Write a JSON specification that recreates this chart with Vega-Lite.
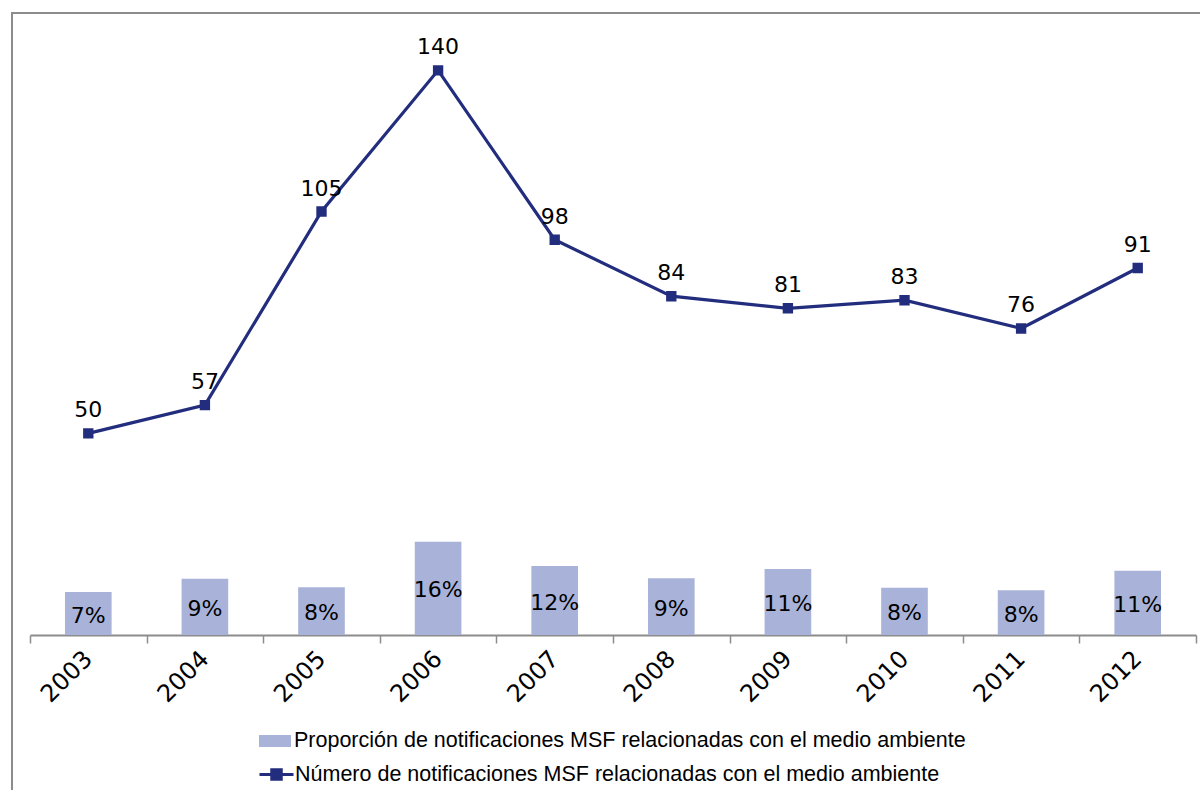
{
  "$schema": "https://vega.github.io/schema/vega-lite/v6.json",
  "autosize": {"type": "none"},
  "padding": {"left": 12, "top": 13, "right": -6, "bottom": -6},
  "width": 1194,
  "height": 783,
  "background": "white",
  "config": {
    "view": {"stroke": "#8c8c8c", "strokeWidth": 2},
    "axis": {"grid": false}
  },
  "data": {
    "values": [
      {"year": "2003", "n": 50, "p": 0.071, "plabel": "7%"},
      {"year": "2004", "n": 57, "p": 0.093, "plabel": "9%"},
      {"year": "2005", "n": 105, "p": 0.079, "plabel": "8%"},
      {"year": "2006", "n": 140, "p": 0.154, "plabel": "16%"},
      {"year": "2007", "n": 98, "p": 0.114, "plabel": "12%"},
      {"year": "2008", "n": 84, "p": 0.094, "plabel": "9%"},
      {"year": "2009", "n": 81, "p": 0.109, "plabel": "11%"},
      {"year": "2010", "n": 83, "p": 0.078, "plabel": "8%"},
      {"year": "2011", "n": 76, "p": 0.074, "plabel": "8%"},
      {"year": "2012", "n": 91, "p": 0.106, "plabel": "11%"}
    ]
  },
  "encoding": {
    "x": {
      "field": "year",
      "type": "nominal",
      "sort": null,
      "scale": {"range": [18, 1184], "paddingInner": 0, "paddingOuter": 0},
      "axis": {
        "title": null,
        "orient": "bottom",
        "offset": -161,
        "labelAngle": -45,
        "labelAlign": "right",
        "labelBaseline": "middle",
        "labelFont": "DejaVu Sans",
        "labelFontSize": 24,
        "labelColor": "#000000",
        "labelPadding": 12,
        "domainColor": "#8c8c8c",
        "domainWidth": 2,
        "tickColor": "#8c8c8c",
        "tickWidth": 1.5,
        "tickSize": 8,
        "tickBand": "extent"
      }
    }
  },
  "layer": [
    {
      "mark": {"type": "bar", "width": {"band": 0.4}},
      "encoding": {
        "y": {"field": "p", "type": "quantitative", "scale": {"domain": [0, 1], "range": [622, 17]}, "axis": null},
        "fill": {
          "datum": "Proporción de notificaciones MSF relacionadas con el medio ambiente",
          "type": "nominal",
          "scale": {"range": ["#a9b3d9"]},
          "legend": {
            "title": null,
            "orient": "none",
            "legendX": 247,
            "legendY": 712,
            "symbolType": "M-1,-0.375H1V0.375H-1Z",
            "symbolSize": 1024,
            "symbolStrokeWidth": 0,
            "labelFont": "Liberation Sans",
            "labelFontSize": 21.5,
            "labelColor": "#000000",
            "labelOffset": 3,
            "labelLimit": 900
          }
        }
      }
    },
    {
      "mark": {"type": "text", "font": "DejaVu Sans", "fontSize": 22, "color": "#000000", "baseline": "middle", "align": "center", "dy": 2},
      "encoding": {
        "y": {"field": "p", "type": "quantitative", "scale": {"domain": [0, 2], "range": [622, 17]}, "axis": null},
        "text": {"field": "plabel"}
      }
    },
    {
      "mark": {"type": "line", "strokeWidth": 3.2, "color": "#232d7e", "point": {"shape": "square", "size": 70, "filled": true, "fill": "#232d7e", "color": "#232d7e"}},
      "encoding": {
        "y": {"field": "n", "type": "quantitative", "scale": {"domain": [0, 150], "range": [622, 17]}, "axis": null},
        "stroke": {
          "datum": "Número de notificaciones MSF relacionadas con el medio ambiente",
          "type": "nominal",
          "scale": {"range": ["#232d7e"]},
          "legend": {
            "title": null,
            "orient": "none",
            "legendX": 246,
            "legendY": 743,
            "symbolType": "M-1,0H1M-0.28,-0.28H0.28V0.28H-0.28Z",
            "symbolSize": 1156,
            "symbolStrokeWidth": 3,
            "symbolFillColor": "#232d7e",
            "labelFont": "Liberation Sans",
            "labelFontSize": 21.5,
            "labelColor": "#000000",
            "labelOffset": 0,
            "labelLimit": 900,
            "encode": {"symbols": {"update": {"fill": {"value": "#232d7e"}}}}
          }
        }
      }
    },
    {
      "mark": {"type": "text", "font": "DejaVu Sans", "fontSize": 22, "color": "#000000", "baseline": "middle", "align": "center", "dy": -23},
      "encoding": {
        "y": {"field": "n", "type": "quantitative", "scale": {"domain": [0, 150], "range": [622, 17]}, "axis": null},
        "text": {"field": "n"}
      }
    }
  ],
  "resolve": {"scale": {"y": "independent"}}
}
